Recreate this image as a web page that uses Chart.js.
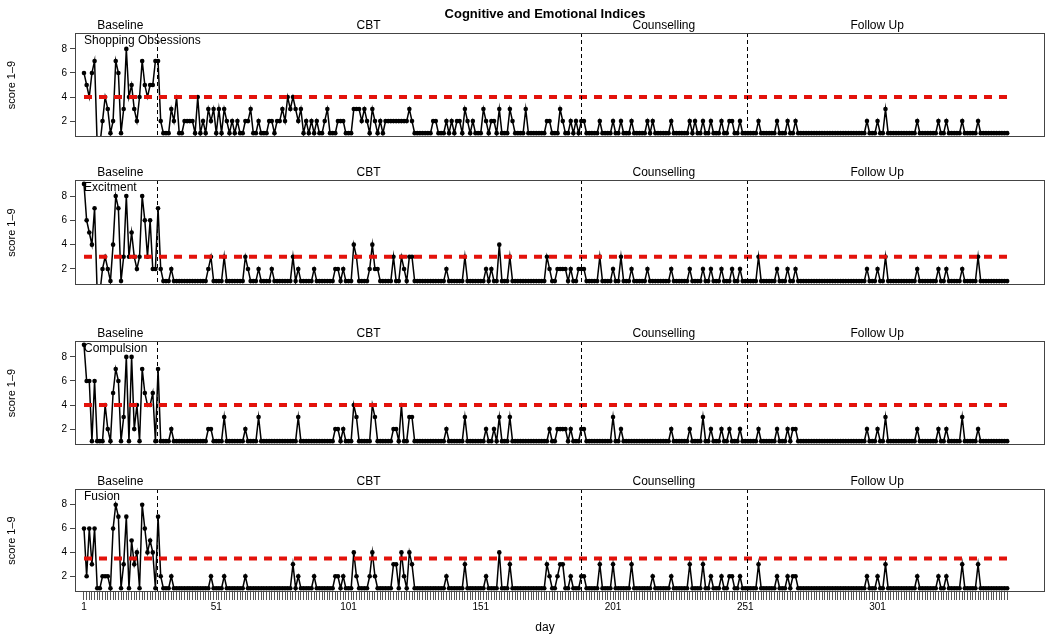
<!DOCTYPE html>
<html>
<head>
<meta charset="utf-8">
<script src="https://cdn.jsdelivr.net/npm/chart.js@4.4.0/dist/chart.umd.min.js"></script>
<style>
html,body{margin:0;padding:0;background:#fff;}
#wrap{position:relative;width:1046px;height:636px;overflow:hidden;background:#fff;}
#wrap canvas{position:absolute;left:0;}
</style>
</head>
<body>
<div id="wrap">
  <canvas id="p0"></canvas>
  <canvas id="p1"></canvas>
  <canvas id="p2"></canvas>
  <canvas id="p3"></canvas>
</div>
<script>
/* Cognitive and Emotional Indices — four daily score panels */
const chartTitle='Cognitive and Emotional Indices';
const measureNames=['Shopping Obsessions','Excitment','Compulsion','Fusion'];
const thresholds=[4,3,4,3.5];
const phaseNames=['Baseline','CBT','Counselling','Follow Up'];
const phaseBreaks=[28.5,188.7,251.7];
const xTickLabels=[1,51,101,151,201,251,301];
const yTicks=[2,4,6,8];

const shopping=[
6,5,4,6,7,0,0,2,4,3, 1,2,7,6,1,3,8,4,5,3, 2,4,7,5,4,5,5,7,7,2,
1,1,1,3,2,4,1,1,2,2, 2,2,1,4,1,2,1,3,2,3, 1,3,1,3,2,1,2,1,2,1,
1,2,2,3,1,1,2,1,1,1, 2,2,1,2,2,3,2,4,3,4, 3,2,3,1,2,1,2,1,2,1,
1,2,3,1,1,1,2,2,2,1, 1,1,3,3,3,2,3,2,1,3, 2,1,2,1,2,2,2,2,2,2,
2,2,2,3,2,1,1,1,1,1, 1,1,2,2,1,1,1,2,1,2, 1,2,2,1,3,2,1,2,1,1,
1,3,2,1,2,2,1,3,1,1, 1,3,2,1,1,1,1,3,1,1, 1,1,1,1,1,2,2,1,1,1,
3,2,1,1,2,1,2,1,2,2, 1,1,1,1,1,2,1,1,1,1, 2,1,1,2,1,1,1,2,1,1,
1,1,1,2,1,2,1,1,1,1, 1,1,2,1,1,1,1,1,1,2, 1,2,1,1,2,1,1,2,1,1,
1,2,1,1,2,2,1,1,2,1, 1,1,1,1,1,2,1,1,1,1, 1,1,2,1,1,1,2,1,1,2,
1,1,1,1,1,1,1,1,1,1, 1,1,1,1,1,1,1,1,1,1, 1,1,1,1,1,1,2,1,1,1,
2,1,1,3,1,1,1,1,1,1, 1,1,1,1,1,2,1,1,1,1, 1,1,1,2,1,1,2,1,1,1,
1,1,2,1,1,1,1,1,2,1, 1,1,1,1,1,1,1,1,1,1
];
const excitment=[
9,6,5,4,7,0,0,2,3,2, 1,4,8,7,1,3,8,3,5,3, 2,3,8,6,3,6,2,2,7,2,
1,1,1,2,1,1,1,1,1,1, 1,1,1,1,1,1,1,2,3,1, 1,1,1,3,1,1,1,1,1,1,
1,3,2,1,1,1,2,1,1,1, 1,2,1,1,1,1,1,1,1,3, 1,2,1,1,1,1,1,2,1,1,
1,1,1,1,1,2,2,1,2,1, 1,1,4,3,1,1,1,1,2,4, 2,2,1,1,1,1,1,3,1,1,
3,2,1,3,3,1,1,1,1,1, 1,1,1,1,1,1,1,2,1,1, 1,1,1,1,3,1,1,1,1,1,
1,1,2,1,2,1,1,4,1,1, 1,3,1,1,1,1,1,1,1,1, 1,1,1,1,1,3,2,1,1,2,
2,2,2,1,2,1,1,2,2,2, 1,1,1,1,1,3,1,1,1,1, 2,1,1,3,1,1,1,2,1,1,
1,1,1,2,1,1,1,1,1,1, 1,1,2,1,1,1,1,1,1,2, 1,1,1,1,2,1,1,2,1,1,
1,2,1,1,1,2,1,1,2,1, 1,1,1,1,1,3,1,1,1,1, 1,1,2,1,1,1,2,1,1,2,
1,1,1,1,1,1,1,1,1,1, 1,1,1,1,1,1,1,1,1,1, 1,1,1,1,1,1,2,1,1,1,
2,1,1,3,1,1,1,1,1,1, 1,1,1,1,1,2,1,1,1,1, 1,1,1,2,1,1,2,1,1,1,
1,1,2,1,1,1,1,1,3,1, 1,1,1,1,1,1,1,1,1,1
];
const compulsion=[
9,6,6,1,6,1,1,1,4,2, 1,5,7,6,1,3,8,1,8,2, 4,1,7,5,4,4,5,1,7,1,
1,1,1,2,1,1,1,1,1,1, 1,1,1,1,1,1,1,2,2,1, 1,1,1,3,1,1,1,1,1,1,
1,2,1,1,1,1,3,1,1,1, 1,1,1,1,1,1,1,1,1,1, 1,3,1,1,1,1,1,1,1,1,
1,1,1,1,1,2,2,1,2,1, 1,1,4,3,1,1,1,1,1,4, 3,1,1,1,1,1,1,2,2,1,
4,1,1,3,3,1,1,1,1,1, 1,1,1,1,1,1,1,2,1,1, 1,1,1,1,3,1,1,1,1,1,
1,1,2,1,1,2,1,3,1,1, 1,3,1,1,1,1,1,1,1,1, 1,1,1,1,1,1,2,1,1,2,
2,2,2,1,2,1,1,1,2,2, 1,1,1,1,1,1,1,1,1,1, 3,1,1,2,1,1,1,1,1,1,
1,1,1,1,1,1,1,1,1,1, 1,1,2,1,1,1,1,1,1,2, 1,1,1,1,3,1,1,2,1,1,
1,2,1,1,2,1,1,1,2,1, 1,1,1,1,1,2,1,1,1,1, 1,1,2,1,1,1,2,1,2,2,
1,1,1,1,1,1,1,1,1,1, 1,1,1,1,1,1,1,1,1,1, 1,1,1,1,1,1,2,1,1,1,
2,1,1,3,1,1,1,1,1,1, 1,1,1,1,1,2,1,1,1,1, 1,1,1,2,1,1,2,1,1,1,
1,1,3,1,1,1,1,1,2,1, 1,1,1,1,1,1,1,1,1,1
];
const fusion=[
6,2,6,3,6,1,1,2,2,2, 1,6,8,7,1,3,7,1,5,3, 4,1,8,6,4,5,4,1,7,2,
1,1,1,2,1,1,1,1,1,1, 1,1,1,1,1,1,1,1,2,1, 1,1,1,2,1,1,1,1,1,1,
1,2,1,1,1,1,1,1,1,1, 1,1,1,1,1,1,1,1,1,3, 1,2,1,1,1,1,1,2,1,1,
1,1,1,1,1,2,2,1,2,1, 1,1,4,2,1,1,1,1,2,4, 2,1,1,1,1,1,1,3,3,1,
4,2,1,4,3,1,1,1,1,1, 1,1,1,1,1,1,1,2,1,1, 1,1,1,1,3,1,1,1,1,1,
1,1,2,1,1,1,1,4,1,1, 1,3,1,1,1,1,1,1,1,1, 1,1,1,1,1,3,2,1,1,2,
3,3,1,1,2,1,1,1,2,2, 1,1,1,1,1,3,1,1,1,1, 3,1,1,1,1,1,1,3,1,1,
1,1,1,1,1,2,1,1,1,1, 1,1,2,1,1,1,1,1,1,3, 1,1,1,1,3,1,1,2,1,1,
1,2,1,1,2,2,1,1,2,1, 1,1,1,1,1,3,1,1,1,1, 1,1,2,1,1,1,2,1,2,2,
1,1,1,1,1,1,1,1,1,1, 1,1,1,1,1,1,1,1,1,1, 1,1,1,1,1,1,2,1,1,1,
2,1,1,3,1,1,1,1,1,1, 1,1,1,1,1,2,1,1,1,1, 1,1,1,2,1,1,2,1,1,1,
1,1,3,1,1,1,1,1,3,1, 1,1,1,1,1,1,1,1,1,1
];
const series=[shopping,excitment,compulsion,fusion];
const days=shopping.map((v,i)=>i+1);

// layout (pixels) for the four stacked boxes
const FONT='"Liberation Sans", Arial, Helvetica, sans-serif';
const boxTop=[33,180,341,489], boxBottom=[137,285,445,592];
const headRoom=33, axisRoom=44, yAxisWidth=75, pageW=1046, boxRight=1045;
const xMin=-2.4, xMax=364.3, yMin=0.68, yMax=9.32;

const decor={
  id:'decor',
  afterDatasetsDraw(chart,args,o){
    const {ctx,chartArea:a,scales:{x,y}}=chart;
    ctx.save();
    ctx.strokeStyle='#000';ctx.lineWidth=1;ctx.setLineDash([4,3]);
    phaseBreaks.forEach(b=>{const px=Math.round(x.getPixelForValue(b))+0.5;ctx.beginPath();ctx.moveTo(px,a.top);ctx.lineTo(px,a.bottom);ctx.stroke();});
    ctx.setLineDash([]);
    ctx.strokeStyle='#444';ctx.strokeRect(a.left+0.5,a.top+0.5,a.width-1,a.height-1);
    ctx.fillStyle='#000';ctx.font='12px '+FONT;ctx.textAlign='center';ctx.textBaseline='middle';
    const edges=[days[0],...phaseBreaks,days[days.length-1]];
    phaseNames.forEach((n,i)=>ctx.fillText(n,x.getPixelForValue((edges[i]+edges[i+1])/2),a.top-7));
    ctx.textAlign='left';
    ctx.fillText(o.label,x.getPixelForValue(days[0]),y.getPixelForValue(8.65));
    if(o.title){ctx.font='bold 13px '+FONT;ctx.textAlign='center';ctx.fillText(o.title,545,14);}
    if(o.xTitle){ctx.font='12px '+FONT;ctx.textAlign='center';ctx.fillText(o.xTitle,545,a.bottom+36);}
    ctx.restore();
  }
};

function config(i){
  const last=i===series.length-1;
  const vals=series[i];
  const xAxis={type:'linear',min:xMin,max:xMax,display:last,position:'bottom',
    ticks:{autoSkip:false,maxRotation:0,padding:1,color:'#000',font:{family:FONT,size:10},callback:v=>xTickLabels.includes(v)?String(v):''},
    grid:{drawOnChartArea:false,drawTicks:true,tickLength:8,color:'#555'},
    border:{display:false}};
  if(last){
    xAxis.afterBuildTicks=s=>{s.ticks=days.map(d=>({value:d}));};
    xAxis.afterFit=s=>{s.height=axisRoom;};
  }
  return {
    type:'line',
    data:{datasets:[
      {data:[{x:days[0],y:thresholds[i]},{x:days[days.length-1],y:thresholds[i]}],borderColor:'#e3120b',borderWidth:4,borderDash:[8,7],pointRadius:0,fill:false},
      {data:days.map((d,k)=>({x:d,y:vals[k]})),borderColor:'#000',borderWidth:1.5,pointRadius:2.3,pointBackgroundColor:'#000',pointBorderWidth:0,fill:false,tension:0}
    ]},
    plugins:[decor],
    options:{
      responsive:false,animation:false,devicePixelRatio:1,
      layout:{padding:{top:headRoom,right:0,left:0,bottom:0}},
      plugins:{legend:{display:false},tooltip:{enabled:false},decor:{label:measureNames[i],title:i===0?chartTitle:null,xTitle:last?'day':null}},
      scales:{
        x:xAxis,
        y:{min:yMin,max:yMax,
          afterBuildTicks:s=>{s.ticks=yTicks.map(v=>({value:v}));},
          afterFit:s=>{s.width=yAxisWidth;},
          ticks:{padding:3,color:'#000',font:{family:FONT,size:10}},
          grid:{drawOnChartArea:false,tickLength:5,color:'#444'},
          border:{display:false},
          title:{display:true,text:'score 1–9',color:'#000',font:{family:FONT,size:11},padding:{top:5,bottom:0}}}
      }
    }
  };
}

function buildPanel(i){
  const el=document.getElementById('p'+i);
  const last=i===series.length-1;
  let w=pageW, h=(boxBottom[i]-boxTop[i])+headRoom+(last?axisRoom:0);
  el.width=w;el.height=h;el.style.top=(boxTop[i]-headRoom)+'px';
  let chart=new Chart(el,config(i));
  // axis label padding eats a few pixels: grow the canvas so the box lands where it should
  const dw=Math.round(boxRight-chart.chartArea.right);
  const dh=Math.round((boxBottom[i]-boxTop[i]+headRoom)-chart.chartArea.bottom);
  if(dw!==0||dh!==0){
    chart.destroy();
    el.width=w+dw;el.height=h+dh;
    chart=new Chart(el,config(i));
  }
}
function init(){series.forEach((s,i)=>buildPanel(i));}
init();
</script>
</body>
</html>
